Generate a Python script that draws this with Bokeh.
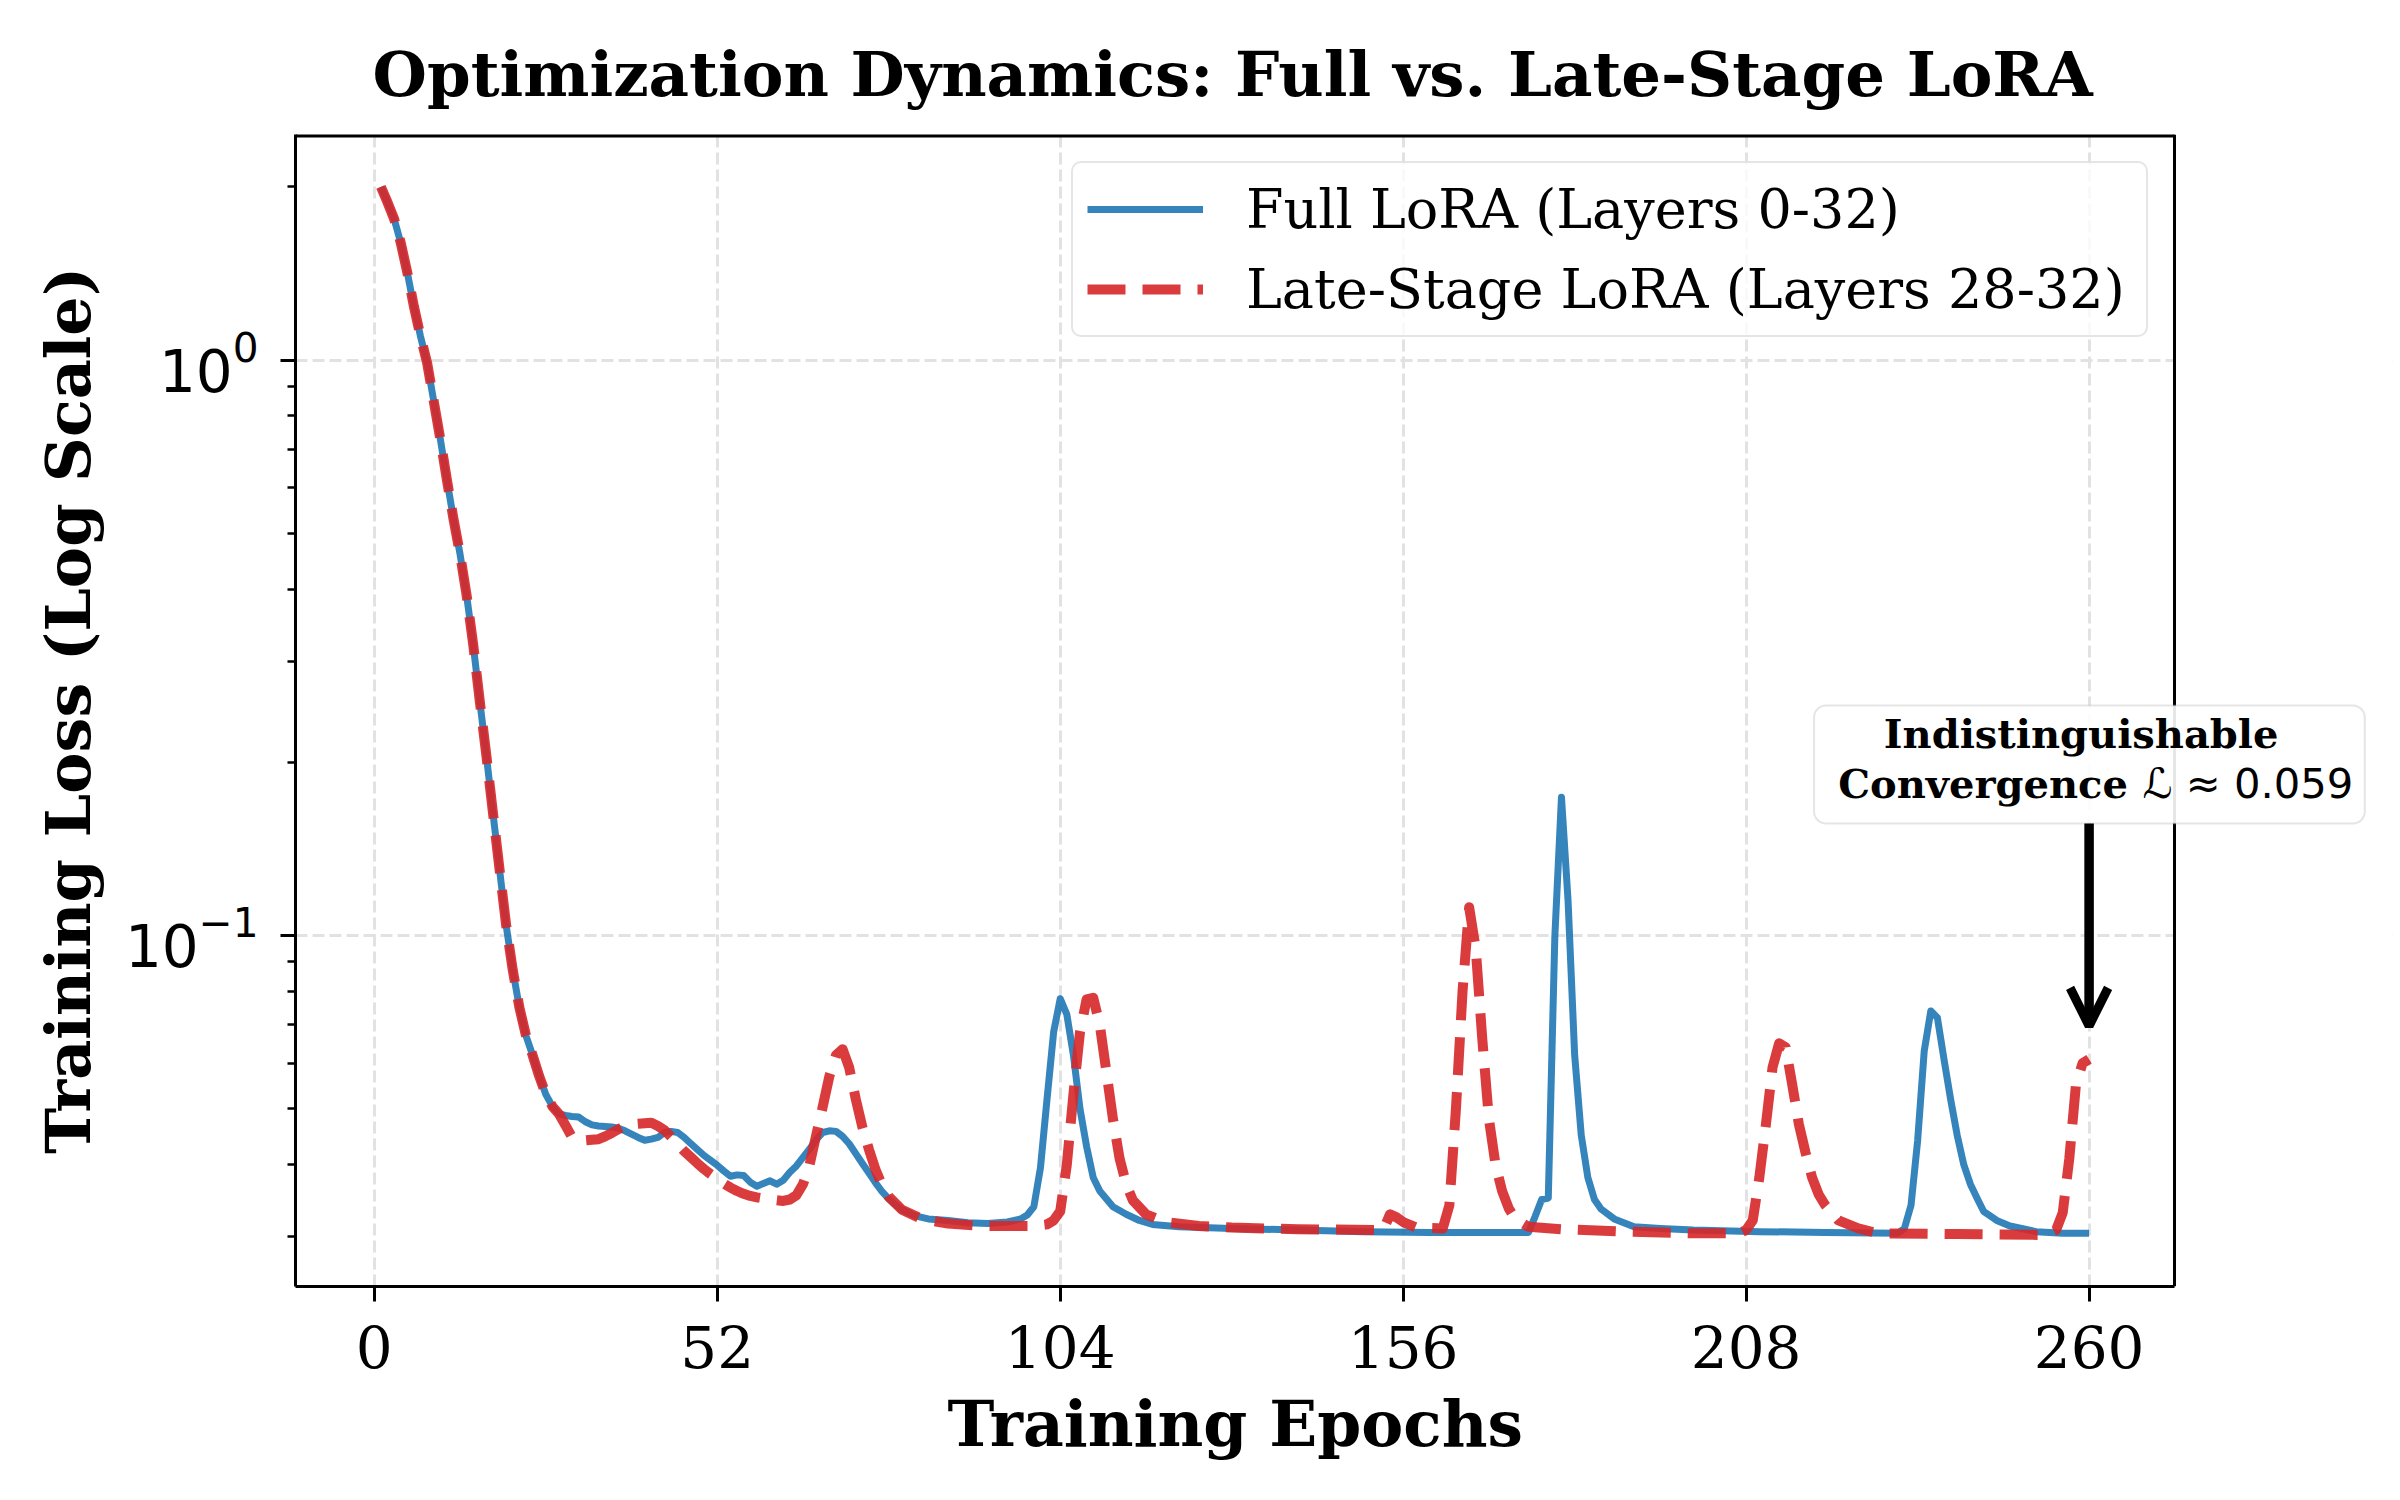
from bokeh.plotting import figure
from bokeh.models import (Range1d, FixedTicker, Legend, LegendItem, Label, Title,
                          BoxAnnotation, Arrow, OpenHead, Span)
from bokeh.embed import file_html
from bokeh.resources import INLINE

# ---------------- data ----------------
full_epochs = [1, 2, 3, 4, 5, 6, 7, 8, 9, 10, 11, 12, 13, 14, 15, 16, 17, 18, 19, 20,
               21, 22, 23, 24, 25, 26, 27, 28, 29, 30, 31, 32, 33, 34, 35, 36, 37, 38, 39, 40,
               41, 42, 43, 44, 45, 46, 47, 48, 49, 50, 51, 52, 53, 54, 55, 56, 57, 58, 59, 60,
               61, 62, 63, 64, 65, 66, 67, 68, 69, 70, 71, 72, 73, 74, 75, 76, 77, 78, 79, 80,
               82, 84, 87, 90, 93, 96, 98, 99, 100, 101, 102, 103, 104, 105, 106, 107, 108, 109,
               110, 112, 114, 116, 118, 122, 130, 140, 150, 160, 175, 176, 177, 178, 179, 180,
               181, 182, 183, 184, 185, 186, 188, 191, 195, 200, 210, 220, 231, 232, 233, 234,
               235, 236, 237, 238, 239, 240, 241, 242, 243, 244, 246, 248, 252, 256, 260]
full_loss = [2.00, 1.88, 1.76, 1.60, 1.42, 1.24, 1.10, 0.99, 0.85, 0.73, 0.62, 0.53, 0.46,
             0.39, 0.32, 0.255, 0.205, 0.163, 0.13, 0.104,
             0.087, 0.075, 0.067, 0.062, 0.057, 0.053, 0.0505, 0.049, 0.0487, 0.0485,
             0.0484, 0.0475, 0.0469, 0.0467, 0.0466, 0.0465, 0.0463, 0.0458, 0.0452, 0.0446,
             0.0441, 0.0443, 0.0446, 0.0455, 0.0457, 0.0455, 0.0446, 0.0435, 0.0425, 0.0415,
             0.0407, 0.0399, 0.0390, 0.0382, 0.0384, 0.0383, 0.0373, 0.0367, 0.0371, 0.0375,
             0.0370, 0.0376, 0.0388, 0.0398, 0.0412, 0.0426, 0.0442, 0.0455, 0.0458, 0.0457,
             0.0448, 0.0435, 0.0418, 0.0402, 0.0387, 0.0372, 0.0359, 0.0349, 0.0341, 0.0334,
             0.0326, 0.0322, 0.0320, 0.0317, 0.0316, 0.0318, 0.0322, 0.0327, 0.0338, 0.0395,
             0.052, 0.068, 0.0777, 0.073, 0.062, 0.050, 0.043, 0.038,
             0.0360, 0.0338, 0.0328, 0.0320, 0.0315, 0.0312, 0.0310, 0.0308, 0.0306, 0.0305,
             0.0305, 0.0325, 0.0348, 0.0350, 0.100, 0.174,
             0.115, 0.062, 0.045, 0.038, 0.0348, 0.0335, 0.0322, 0.0312, 0.0310, 0.0308,
             0.0306, 0.0305, 0.0304, 0.0310, 0.0340, 0.044,
             0.063, 0.074, 0.072, 0.061, 0.052, 0.045, 0.040, 0.0370, 0.0350, 0.0332,
             0.0320, 0.0313, 0.0306, 0.0304, 0.0304]

late_epochs = [1, 2, 3, 4, 5, 6, 7, 8, 9, 10, 11, 12, 13, 14, 15, 16, 17, 18, 19, 20,
               21, 22, 23, 24, 25, 26, 27, 28, 29, 30, 31, 32, 33, 34, 35, 36, 37, 38, 39, 40,
               41, 42, 43, 44, 45, 46, 47, 48, 49, 50, 51, 52, 53, 54, 55, 56, 57, 58, 60, 62,
               63, 64, 65, 66, 67, 68, 69, 70, 71, 72, 73, 74, 75, 76, 77, 78, 80, 83, 87, 92,
               100, 102, 103, 104, 105, 106, 107, 108, 109, 110, 111, 112, 113, 114, 115, 117,
               120, 125, 130, 140, 153, 154, 155, 156, 158, 162, 163, 164, 165, 166, 167, 168,
               169, 170, 171, 172, 173, 175, 180, 190, 200, 207, 208, 209, 210, 211, 212, 213,
               214, 215, 216, 217, 218, 219, 220, 222, 225, 228, 240, 253, 254, 255, 256, 257,
               258, 259, 260]
late_loss = [2.00, 1.88, 1.76, 1.60, 1.42, 1.24, 1.10, 0.99, 0.85, 0.73, 0.62, 0.53, 0.46,
             0.39, 0.32, 0.255, 0.205, 0.163, 0.13, 0.104,
             0.087, 0.075, 0.067, 0.062, 0.057, 0.053, 0.0505, 0.0490, 0.0468, 0.0446,
             0.0441, 0.0441, 0.0442, 0.0443, 0.0448, 0.0454, 0.0461, 0.0467, 0.0470, 0.0471,
             0.0472, 0.0473, 0.0467, 0.0459, 0.0447, 0.0434, 0.0422, 0.0412, 0.0402, 0.0393,
             0.0385, 0.0378, 0.0371, 0.0365, 0.0360, 0.0356, 0.0353, 0.0351, 0.0348, 0.0346,
             0.0348, 0.0354, 0.0370, 0.0400, 0.0450, 0.0505, 0.0570, 0.0620, 0.0635, 0.0590,
             0.0520, 0.0465, 0.0425, 0.0392, 0.0368, 0.0352, 0.0334, 0.0322, 0.0316, 0.0313,
             0.0313, 0.0315, 0.0320, 0.0332, 0.0400, 0.0530, 0.0680, 0.0775, 0.0780, 0.0700,
             0.0580, 0.0480, 0.0410, 0.0370, 0.0347, 0.0328,
             0.0318, 0.0313, 0.0311, 0.0309, 0.0308, 0.0328, 0.0324, 0.0318, 0.0311, 0.0310,
             0.0340, 0.0500, 0.0800, 0.1120, 0.0950, 0.0660,
             0.0480, 0.0400, 0.0360, 0.0336, 0.0322, 0.0312, 0.0309, 0.0306, 0.0304, 0.0304,
             0.0308, 0.0320, 0.0380, 0.0470, 0.0590, 0.0650,
             0.0640, 0.0550, 0.0470, 0.0420, 0.0380, 0.0355, 0.0340, 0.0320, 0.0310, 0.0304,
             0.0303, 0.0302, 0.0304, 0.0308, 0.0330, 0.0410,
             0.0550, 0.0600, 0.0610]

x_ticks = [0, 52, 104, 156, 208, 260]
y_major_ticks = [0.1, 1]
y_minor_ticks = [0.03, 0.04, 0.05, 0.06, 0.07, 0.08, 0.09,
                 0.2, 0.3, 0.4, 0.5, 0.6, 0.7, 0.8, 0.9, 2.0]

series_labels = ["Full LoRA (Layers 0-32)", "Late-Stage LoRA (Layers 28-32)"]
title_text = "Optimization Dynamics: Full vs. Late-Stage LoRA"
x_label = "Training Epochs"
y_label = "Training Loss (Log Scale)"
note_line1 = "Indistinguishable"
note_line2 = "Convergence"
note_math = "\u2112 \u2248 0.059"
arrow_target = (260, 0.0697)

BLUE = "#1f77b4"
RED = "#d62728"
SERIF = "DejaVu Serif"

# axes limits (matplotlib-like 5% margins)
X0, X1 = -11.95, 272.95
Y0, Y1 = 0.02457, 2.466

# ---------------- figure ----------------
# The drawing frame is extended to the right so that the annotation box,
# which overhangs the axes in the reference, is not clipped. The visible
# axes box is drawn by the axis lines, a top segment and a right span.
FRAME_L, FRAME_R_AXES, FRAME_R = 295, 2174, 2392
px_per_unit = (FRAME_R_AXES - FRAME_L) / (X1 - X0)
X_END = X0 + (FRAME_R - FRAME_L) / px_per_unit

p = figure(width=2400, height=1500,
           x_range=Range1d(X0, X_END), y_range=Range1d(Y0, Y1),
           y_axis_type="log", output_backend="svg", toolbar_location=None,
           min_border_left=FRAME_L, min_border_right=2400 - FRAME_R,
           min_border_top=134, min_border_bottom=214)
p.background_fill_color = "white"
p.border_fill_color = "white"
p.outline_line_color = None

p.title.text = title_text
p.title.text_font = SERIF
p.title.text_font_style = "bold"
p.title.text_font_size = "62.5px"
p.title.text_color = "black"
p.title.align = "left"
p.title.offset = 77
p.title.standoff = 47

xt = FixedTicker(ticks=x_ticks)
yt = FixedTicker(ticks=y_major_ticks, minor_ticks=y_minor_ticks)
p.xaxis.ticker = xt
p.yaxis.ticker = yt
p.xgrid.ticker = xt
p.ygrid.ticker = yt

for g in (p.xgrid, p.ygrid):
    g.grid_line_color = "#e2e2e2"
    g.grid_line_width = 3
    g.grid_line_dash = "12 5"

for ax in (p.xaxis[0], p.yaxis[0]):
    ax.axis_line_width = 3
    ax.axis_line_color = "black"
    ax.major_tick_line_width = 3
    ax.major_tick_out = 15
    ax.major_tick_in = 0
    ax.minor_tick_out = 8
    ax.minor_tick_in = 0
    ax.minor_tick_line_width = 2.5
    ax.major_label_text_font_size = "58px"
    ax.major_label_text_color = "black"
    ax.axis_label_text_font = SERIF
    ax.axis_label_text_font_style = "bold"
    ax.axis_label_text_font_size = "62px"
    ax.axis_label_text_color = "black"

p.xaxis.bounds = (X0, X1)
p.xaxis.minor_tick_line_color = None
p.xaxis.major_label_text_font = SERIF
p.yaxis.major_label_text_font = "DejaVu Sans"
p.yaxis.axis_label = y_label
p.xaxis.major_label_standoff = 23
p.yaxis.major_label_standoff = 22
p.yaxis.axis_label_standoff = 17

# x-axis label, centred under the visible axes box
xlab = Title(text=x_label, text_font=SERIF, text_font_style="bold",
             text_font_size="63px", text_color="black", align="left",
             offset=652, standoff=32, vertical_align="top")
p.add_layout(xlab, "below")

r_full = p.line(full_epochs, full_loss, line_color=BLUE, line_alpha=0.9,
                line_width=7, line_join="round")
r_late = p.line(late_epochs, late_loss, line_color=RED, line_alpha=0.9,
                line_width=10, line_dash="38 17", line_join="round")

# blank out the extension of the frame to the right of the axes box
p.add_layout(BoxAnnotation(left=X1, fill_color="white", fill_alpha=1.0,
                           line_color=None, level="underlay"))

# top and right spines of the axes box
p.segment(x0=[X0], y0=[Y1], x1=[X1], y1=[Y1], line_color="black", line_width=6)
p.add_layout(Span(location=X1, dimension="height", line_color="black", line_width=3))

legend = Legend(items=[LegendItem(label=series_labels[0], renderers=[r_full]),
                       LegendItem(label=series_labels[1], renderers=[r_late])],
                location=(776, 949))
legend.label_text_font = SERIF
legend.label_text_font_size = "54px"
legend.label_text_color = "black"
legend.glyph_width = 116
legend.glyph_height = 64
legend.label_height = 64
legend.label_width = 886
legend.label_standoff = 43
legend.padding = 14
legend.spacing = 16
legend.margin = 0
legend.border_line_color = "#cccccc"
legend.border_line_width = 2
legend.background_fill_alpha = 0.8
if "border_radius" in Legend.properties():
    legend.border_radius = 10
p.add_layout(legend)

# ---------------- annotation ----------------
box = BoxAnnotation(left=218.3, right=301.8, top=0.2512, bottom=0.1566,
                    fill_color="white", fill_alpha=0.9,
                    line_color="#aaaaaa", line_width=2)
if "border_radius" in BoxAnnotation.properties():
    box.border_radius = 12
p.add_layout(box)

p.add_layout(Label(x=258.8, y=0.2241, text=note_line1, text_align="center",
                   text_baseline="alphabetic", text_font=SERIF,
                   text_font_style="bold", text_font_size="40px", text_color="black"))
p.add_layout(Label(x=221.96, y=0.1836, text=note_line2, text_align="left",
                   text_baseline="alphabetic", text_font=SERIF,
                   text_font_style="bold", text_font_size="40px", text_color="black"))
p.add_layout(Label(x=268.1, y=0.1836, text=note_math, text_align="left",
                   text_baseline="alphabetic", text_font="DejaVu Sans",
                   text_font_size="41.7px", text_color="black"))

p.add_layout(Arrow(end=OpenHead(size=38, line_width=9, line_color="black"),
                   x_start=arrow_target[0], y_start=0.1566,
                   x_end=arrow_target[0], y_end=arrow_target[1],
                   line_width=9.5, line_color="black"))

open("out.html", "w").write(file_html(p, INLINE))
